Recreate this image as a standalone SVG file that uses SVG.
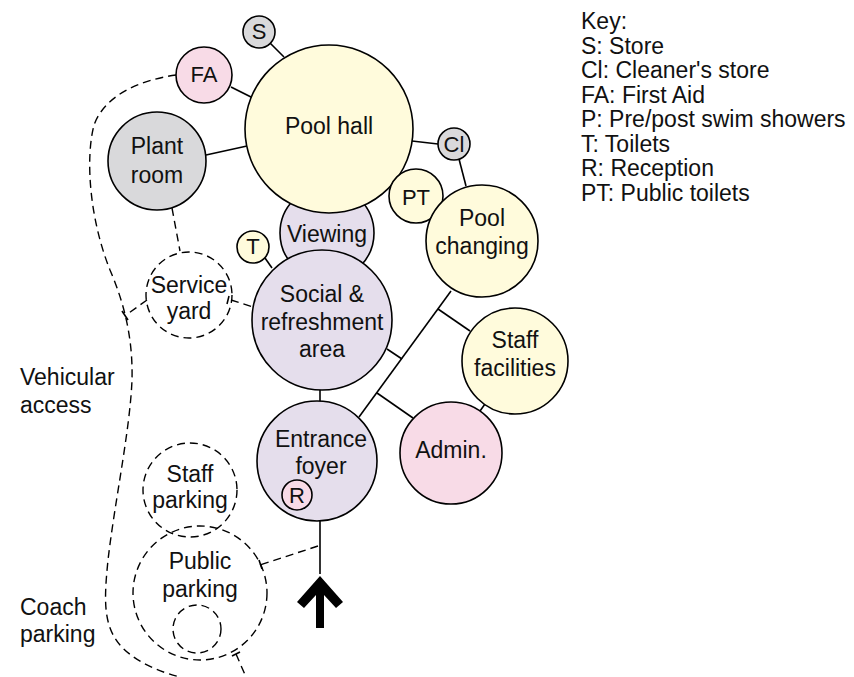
<svg xmlns="http://www.w3.org/2000/svg" width="854" height="677" viewBox="0 0 854 677">
<style>
text{font-family:"Liberation Sans",Arial,sans-serif;font-size:23px;fill:#111;text-anchor:middle}
.k{text-anchor:start}
.s{font-size:22px}
.n{stroke:#000;stroke-width:1.6}
.y{fill:#fffbdc}.p{fill:#e5deec}.r{fill:#f8dbe7}.g{fill:#d9d9db}
.d{fill:none;stroke:#000;stroke-width:1.4;stroke-dasharray:8 5}
.l{stroke:#000;stroke-width:1.6;fill:none}
</style>
<rect width="854" height="677" fill="#fff"/>
<g id="connectors">
<line class="l" x1="270" y1="43" x2="284" y2="57"/>
<line class="l" x1="231" y1="87" x2="253" y2="98"/>
<line class="l" x1="206" y1="155" x2="247" y2="146"/>
<line class="l" x1="412" y1="141" x2="438" y2="144"/>
<line class="l" x1="459" y1="159" x2="466" y2="186"/>
<line class="l" x1="265" y1="258" x2="272" y2="268"/>
<line class="l" x1="320" y1="390" x2="320" y2="402"/>
<line class="l" x1="451" y1="291" x2="359" y2="417"/>
<line class="l" x1="438" y1="309" x2="470" y2="331"/>
<line class="l" x1="387" y1="349" x2="402" y2="359"/>
<line class="l" x1="377" y1="393" x2="413" y2="418"/>
<line class="l" x1="480" y1="411" x2="485" y2="404"/>
<line class="l" x1="320" y1="521" x2="320" y2="574"/>
<path class="d" d="M176,75 C140,80 105,95 94,125 C85,160 90,220 110,270 C125,305 133,340 132,380 C130,430 115,500 108,560 C104,600 103,625 120,645 C135,662 160,672 180,677"/>
<line class="d" x1="172" y1="208" x2="180" y2="251"/>
<line class="d" x1="231" y1="300" x2="253" y2="307"/>
<line class="l" x1="229" y1="296" x2="227" y2="304"/>
<line class="d" x1="147" y1="300" x2="126" y2="315"/>
<line class="l" x1="122" y1="311" x2="128" y2="320"/>
<line class="d" x1="318" y1="546" x2="260" y2="565"/>
<line class="l" x1="259" y1="560" x2="262" y2="569"/>
<line class="d" x1="236" y1="654" x2="246" y2="677"/>
<line class="l" x1="232" y1="656" x2="240" y2="652"/>
<polygon points="320,576 343,602 336,608 324,595 324,628 316,628 316,595 304,608 297,602" fill="#000"/>
</g>
<g id="vehicular-access"><text class="k" x="20" y="385">Vehicular</text><text class="k" x="20" y="413">access</text></g>
<g id="coach-parking"><text class="k" x="20" y="615">Coach</text><text class="k" x="20" y="642">parking</text></g>
<g id="service-yard"><circle class="d" cx="189" cy="295" r="43"/><text x="189" y="293">Service</text><text x="189" y="319">yard</text></g>
<g id="staff-parking"><circle class="d" cx="190" cy="490" r="47"/><text x="190" y="482">Staff</text><text x="190" y="508">parking</text></g>
<g id="public-parking"><circle class="d" cx="200" cy="593" r="67"/><text x="200" y="569">Public</text><text x="200" y="597">parking</text></g>
<g id="coach-bay"><circle class="d" cx="197" cy="629" r="24"/></g>
<g id="plant-room"><circle class="n g" cx="157" cy="161" r="49"/><text x="157" y="154">Plant</text><text x="157" y="183">room</text></g>
<g id="fa"><circle class="n r" cx="204" cy="75" r="28"/><text class="s" x="204" y="82">FA</text></g>
<g id="s"><circle class="n g" cx="259" cy="32" r="16"/><text class="s" x="259" y="39">S</text></g>
<g id="viewing"><circle class="n p" cx="327" cy="233" r="47"/><text x="327" y="242">Viewing</text></g>
<g id="pool-hall"><circle class="n y" cx="329" cy="129" r="84"/><text x="329" y="134">Pool hall</text></g>
<g id="cl"><circle class="n g" cx="454" cy="144" r="16"/><text class="s" x="454" y="152">Cl</text></g>
<g id="pt"><circle class="n y" cx="416" cy="196" r="27"/><text class="s" x="416" y="205">PT</text></g>
<g id="pool-changing"><circle class="n y" cx="482" cy="241" r="56"/><text x="482" y="226">Pool</text><text x="482" y="254">changing</text></g>
<g id="t"><circle class="n y" cx="253" cy="247" r="16"/><text class="s" x="253" y="254">T</text></g>
<g id="social"><circle class="n p" cx="322" cy="320" r="70"/><text x="322" y="302">Social &amp;</text><text x="322" y="330">refreshment</text><text x="322" y="357">area</text></g>
<g id="staff-facilities"><circle class="n y" cx="515" cy="361" r="53"/><text x="515" y="348">Staff</text><text x="515" y="376">facilities</text></g>
<g id="admin"><circle class="n r" cx="451" cy="453" r="51"/><text x="451" y="458">Admin.</text></g>
<g id="entrance-foyer"><circle class="n p" cx="317" cy="461" r="60"/><text x="321" y="447">Entrance</text><text x="321" y="474">foyer</text></g>
<g id="r"><circle class="n r" cx="297" cy="495" r="15"/><text class="s" x="297" y="503">R</text></g>
<g id="key">
<text class="k" x="581" y="29">Key:</text>
<text class="k" x="581" y="54">S: Store</text>
<text class="k" x="581" y="78">Cl: Cleaner's store</text>
<text class="k" x="581" y="103">FA: First Aid</text>
<text class="k" x="581" y="127">P: Pre/post swim showers</text>
<text class="k" x="581" y="152">T: Toilets</text>
<text class="k" x="581" y="176">R: Reception</text>
<text class="k" x="581" y="201">PT: Public toilets</text>
</g>
</svg>
